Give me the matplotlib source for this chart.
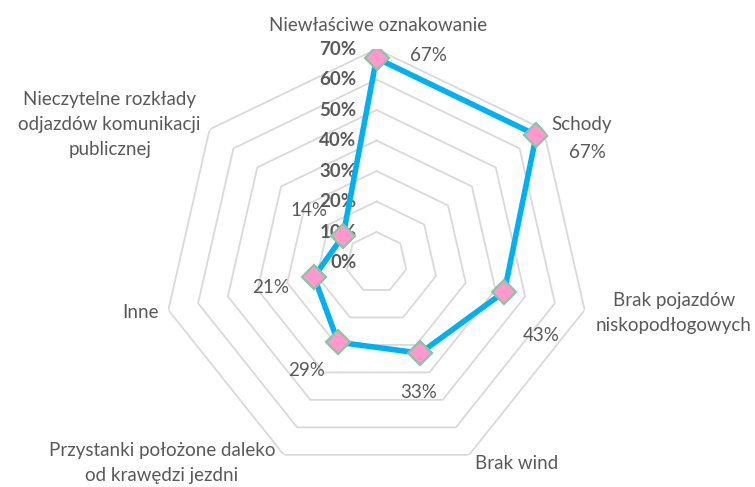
import numpy as np
import matplotlib
matplotlib.use('Agg')
import matplotlib.pyplot as plt

plt.rcParams['font.family'] = ['Lato', 'DejaVu Sans']

#%% Data
categories = ['Niewłaściwe oznakowanie', 'Schody', 'Brak pojazdów\nniskopodłogowych',
              'Brak wind', 'Przystanki położone daleko\nod krawędzi jezdni', 'Inne',
              'Nieczytelne rozkłady\nodjazdów komunikacji\npublicznej']
values = [0.67, 0.67, 0.43, 0.33, 0.29, 0.21, 0.14]
value_labels = ['67%', '67%', '43%', '33%', '29%', '21%', '14%']
levels = [0.1, 0.2, 0.3, 0.4, 0.5, 0.6, 0.7]
level_labels = ['0%', '10%', '20%', '30%', '40%', '50%', '60%', '70%']

# label offsets in pixels (category labels, data labels)
cat_off = [(1.5, 24), (8, 5), (89, -3), (47, -9), (-122, -8), (-28, -2), (-100, 5)]
cat_ha = ['center', 'left', 'center', 'center', 'center', 'center', 'center']
val_off = [(52, 3), (51, -17), (37, -44), (-2, -39), (-32, -28), (-43, -11), (-34, 25)]

txtc = '#595959'
gridc = '#D9D9D9'

n = len(categories)
theta = np.linspace(0, 2*np.pi, n, endpoint=False)
theta_c = np.append(theta, theta[0])

fig = plt.figure(figsize=(7.55, 4.87), dpi=100)
ax = fig.add_axes([(376.5-213.5)/755, (487-262.5-213.5)/487, 427/755, 427/487],
                  projection='polar')
ax.set_theta_zero_location('N')
ax.set_theta_direction(-1)
ax.set_ylim(0, 0.7)
ax.grid(False)
ax.spines['polar'].set_visible(False)
ax.set_xticks([])
ax.set_yticks([])
ax.patch.set_alpha(0)

# heptagon gridlines
for lv in levels:
    ax.plot(theta_c, [lv]*(n+1), color=gridc, lw=1.3, zorder=1)

# radial value labels along the first spoke
for lv, lab in zip([0.0] + levels, level_labels):
    ax.annotate(lab, xy=(0, lv), xytext=(-20, 0), textcoords='offset pixels',
                ha='right', va='center', fontsize=13.5, fontweight='bold',
                color=txtc, zorder=2)

# data series
vals_c = np.append(values, values[0])
ax.plot(theta_c, vals_c, color='#00B0F0', lw=4, zorder=3)
ax.plot(theta, values, ls='none', marker='D', ms=12, mfc='#FF99CC',
        mec='#86C5A6', mew=1.6, zorder=4)

for t, v, lab, off in zip(theta, values, value_labels, val_off):
    ax.annotate(lab, xy=(t, v), xytext=off, textcoords='offset pixels',
                ha='center', va='center', fontsize=13.5, color=txtc,
                annotation_clip=False)

for t, lab, off, ha in zip(theta, categories, cat_off, cat_ha):
    ax.annotate(lab, xy=(t, 0.7), xytext=off, textcoords='offset pixels',
                ha=ha, va='center', fontsize=13.5, color=txtc,
                multialignment='center', linespacing=1.55,
                annotation_clip=False)

plt.savefig('out.png', dpi=100)
